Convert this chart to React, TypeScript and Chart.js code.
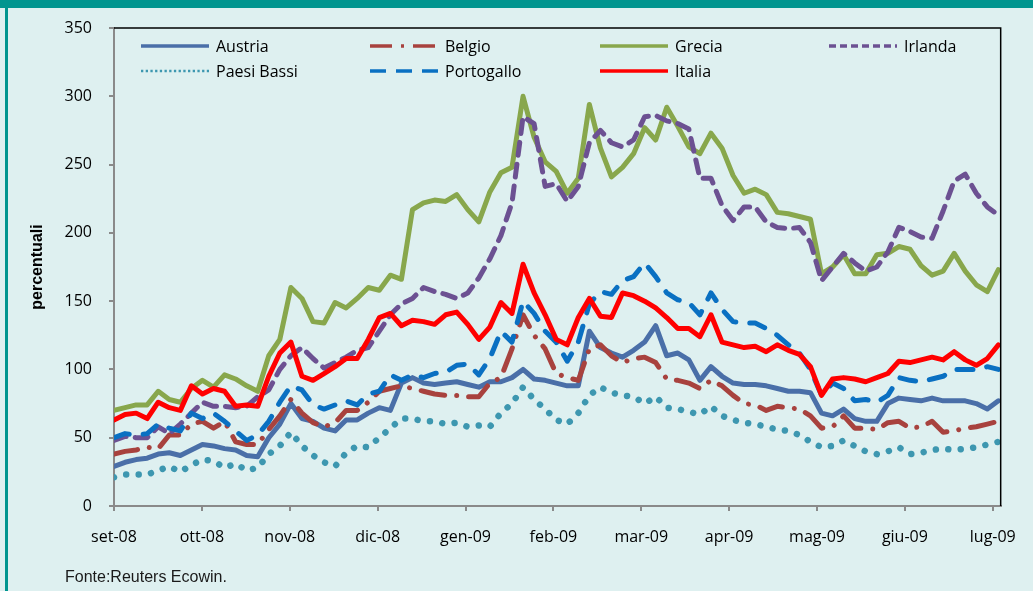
import React, { useEffect, useRef } from 'react';
import { Chart, registerables } from 'chart.js';

Chart.register(...registerables);

// ---- data ----
const MONTH_LABELS = ['set-08', 'ott-08', 'nov-08', 'dic-08', 'gen-09', 'feb-09', 'mar-09', 'apr-09', 'mag-09', 'giu-09', 'lug-09'];
const X_MAX = 10.09; // months shown on the axis
const SAMPLE_STEP = 0.1258; // months between consecutive readings
const Y_MIN = 0;
const Y_MAX = 350;
const Y_STEP = 50;

const austria = [29, 32, 34, 35, 38, 39, 37, 41, 45, 44, 42, 41, 37, 36, 50, 60, 75, 64, 62, 57, 55, 63, 63, 68, 72, 70, 90, 94, 90, 89, 90, 91, 89, 87, 91, 91, 94, 100, 93, 92, 90, 88, 88, 128, 116, 112, 109, 114, 120, 132, 110, 112, 107, 92, 102, 95, 90, 89, 89, 88, 86, 84, 84, 83, 68, 66, 71, 64, 62, 62, 75, 79, 78, 77, 79, 77, 77, 77, 75, 71, 77];
const belgio = [38, 40, 41, 43, 42, 52, 52, 60, 62, 57, 62, 47, 45, 45, 56, 66, 78, 68, 61, 58, 61, 70, 70, 76, 84, 86, 88, 86, 84, 82, 81, 81, 80, 80, 90, 94, 115, 140, 125, 115, 97, 94, 92, 115, 118, 110, 105, 108, 109, 105, 93, 92, 90, 86, 92, 88, 81, 75, 74, 70, 73, 72, 71, 66, 57, 58, 66, 57, 57, 56, 61, 62, 57, 58, 62, 54, 55, 57, 58, 60, 62];
const grecia = [70, 72, 74, 74, 84, 78, 76, 86, 92, 87, 96, 93, 88, 84, 110, 122, 160, 152, 135, 134, 149, 145, 152, 160, 158, 169, 166, 217, 222, 224, 223, 228, 217, 208, 230, 244, 248, 300, 270, 252, 245, 229, 240, 294, 262, 241, 248, 258, 277, 268, 292, 278, 263, 258, 273, 262, 242, 229, 232, 228, 215, 214, 212, 210, 170, 175, 184, 170, 170, 184, 185, 190, 188, 176, 169, 172, 185, 172, 162, 157, 173];
const irlanda = [48, 51, 50, 50, 58, 53, 60, 68, 76, 73, 73, 72, 73, 80, 85, 100, 110, 116, 108, 101, 105, 109, 114, 116, 128, 140, 148, 152, 160, 157, 155, 152, 156, 167, 181, 198, 222, 285, 280, 234, 236, 223, 234, 266, 275, 266, 263, 268, 285, 286, 282, 280, 276, 240, 240, 220, 209, 219, 219, 208, 204, 203, 204, 193, 165, 175, 185, 178, 172, 175, 186, 204, 201, 197, 196, 216, 238, 243, 229, 219, 213];
const paesiBassi = [21, 23, 23, 23, 26, 29, 25, 30, 34, 33, 28, 31, 26, 28, 38, 44, 54, 44, 37, 32, 29, 39, 44, 43, 50, 57, 64, 64, 62, 62, 60, 61, 58, 59, 58, 68, 75, 87, 78, 71, 63, 60, 68, 81, 87, 83, 81, 80, 75, 80, 72, 71, 69, 67, 73, 66, 63, 61, 60, 58, 56, 55, 52, 47, 43, 44, 48, 44, 40, 38, 40, 43, 38, 39, 41, 42, 41, 42, 43, 45, 47];
const portogallo = [50, 53, 52, 53, 60, 57, 55, 68, 64, 68, 62, 55, 48, 52, 62, 76, 88, 85, 74, 71, 74, 77, 74, 82, 84, 96, 92, 96, 94, 97, 98, 103, 104, 96, 108, 128, 120, 150, 141, 128, 120, 106, 120, 148, 157, 155, 165, 168, 178, 168, 156, 151, 149, 140, 156, 144, 135, 134, 134, 130, 125, 118, 112, 100, 81, 90, 86, 77, 78, 76, 81, 94, 92, 91, 93, 95, 100, 100, 100, 102, 100];
const italia = [63, 67, 68, 64, 76, 72, 70, 88, 82, 86, 84, 73, 74, 73, 95, 112, 120, 95, 92, 97, 102, 108, 108, 122, 138, 141, 132, 136, 135, 133, 140, 142, 133, 122, 131, 149, 141, 177, 156, 140, 122, 118, 138, 152, 139, 138, 156, 154, 150, 145, 138, 130, 130, 124, 140, 120, 118, 116, 117, 113, 118, 114, 111, 102, 81, 93, 94, 93, 91, 94, 97, 106, 105, 107, 109, 107, 113, 107, 103, 108, 118];

const SERIES_NAMES = ['Austria', 'Belgio', 'Grecia', 'Irlanda', 'Paesi Bassi', 'Portogallo', 'Italia'];
const SERIES_VALUES = [austria, belgio, grecia, irlanda, paesiBassi, portogallo, italia];

// ---- styles ----
const COLORS = ['#4a6fa8', '#a8423e', '#88a74c', '#6c5192', '#3d97b0', '#0a70c2', '#ff0000'];
const LINE_WIDTHS = [5, 5, 5, 5, 6.5, 5, 5];
const CHART_DASH: number[][] = [[], [24, 12, 0.01, 12], [], [13, 9], [0.01, 12.5], [16, 14], []];
const LEGEND_DASH: number[][] = [[], [22, 9, 3, 9], [], [7, 4], [2.3, 2.4], [16, 10], []];
const LEGEND_WIDTHS = [3.5, 3.5, 3.5, 3.5, 2.6, 3.5, 3.5];
const LEGEND_POS = [
  [141, 46], [370, 46], [600, 46], [829, 46],
  [141, 71], [370, 71], [600, 71],
];

const TICK_FONT = { family: '"Open Sans", sans-serif', size: 16 };
const AXIS_GREY = '#8a8a8a';

const decorPlugin = {
  id: 'decor',
  afterDatasetsDraw(chart: any) {
    const { ctx, chartArea: a } = chart;
    ctx.save();
    // plot-area frame (top & right)
    ctx.strokeStyle = '#000';
    ctx.lineWidth = 1.5;
    ctx.beginPath();
    ctx.moveTo(a.left, a.top);
    ctx.lineTo(a.right, a.top);
    ctx.lineTo(a.right, a.bottom);
    ctx.stroke();

    // legend
    ctx.font = '16px "Open Sans", sans-serif';
    ctx.textBaseline = 'middle';
    ctx.textAlign = 'left';
    SERIES_NAMES.forEach((name, i) => {
      const [x, y] = LEGEND_POS[i];
      ctx.save();
      ctx.strokeStyle = COLORS[i];
      ctx.lineWidth = LEGEND_WIDTHS[i];
      ctx.lineCap = 'butt';
      ctx.setLineDash(LEGEND_DASH[i]);
      ctx.beginPath();
      ctx.moveTo(x, y);
      ctx.lineTo(x + 68, y);
      ctx.stroke();
      ctx.restore();
      ctx.fillStyle = '#000';
      ctx.fillText(name, x + 75, y + 1);
    });

    // y axis title
    ctx.save();
    ctx.translate(38, (a.top + a.bottom) / 2);
    ctx.rotate(-Math.PI / 2);
    ctx.font = 'bold 16px "Liberation Sans", Arial, sans-serif';
    ctx.textAlign = 'center';
    ctx.textBaseline = 'middle';
    ctx.fillStyle = '#000';
    ctx.fillText('percentuali', 0, 0);
    ctx.restore();

    // source
    ctx.font = '16px "Liberation Sans", Arial, sans-serif';
    ctx.fillStyle = '#1a1a1a';
    ctx.textAlign = 'left';
    ctx.textBaseline = 'alphabetic';
    ctx.fillText('Fonte:Reuters Ecowin.', 65, 582);
    ctx.restore();
  },
};

export default function App() {
  const canvasRef = useRef<HTMLCanvasElement | null>(null);

  useEffect(() => {
    const canvas = canvasRef.current;
    if (!canvas) return;
    const datasets = SERIES_NAMES.map((name, i) => ({
      label: name,
      data: SERIES_VALUES[i].map((v, k) => ({ x: k * SAMPLE_STEP, y: v })),
      borderColor: COLORS[i],
      backgroundColor: COLORS[i],
      borderWidth: LINE_WIDTHS[i],
      borderDash: CHART_DASH[i],
      borderCapStyle: 'round',
      borderJoinStyle: 'round',
      pointRadius: 0,
      tension: 0,
      fill: false,
      order: SERIES_NAMES.length - 1 - i,
    }));

    const chart = new Chart(canvas, {
      type: 'line',
      data: { datasets } as any,
      plugins: [decorPlugin],
      options: {
        responsive: false,
        animation: false,
        events: [],
        layout: { padding: { left: 0, right: 27, top: 28, bottom: 0 } },
        plugins: { legend: { display: false }, tooltip: { enabled: false } },
        scales: {
          x: {
            type: 'linear',
            min: 0,
            max: X_MAX,
            afterBuildTicks: (s: any) => {
              s.ticks = MONTH_LABELS.map((_, i) => ({ value: i }));
            },
            afterFit: (s: any) => {
              s.height = 85;
            },
            grid: { display: true, drawOnChartArea: false, drawTicks: true, tickLength: 5, color: AXIS_GREY, lineWidth: 2 },
            border: { display: true, color: AXIS_GREY, width: 2 },
            ticks: {
              callback: (v: any) => MONTH_LABELS[Math.round(v)] ?? '',
              font: TICK_FONT,
              color: '#000',
              padding: 17,
              maxRotation: 0,
              autoSkip: false,
            },
          },
          y: {
            min: Y_MIN,
            max: Y_MAX,
            afterFit: (s: any) => {
              s.width = 114;
            },
            grid: { display: true, drawOnChartArea: false, drawTicks: true, tickLength: 5, color: AXIS_GREY, lineWidth: 2 },
            border: { display: true, color: AXIS_GREY, width: 2 },
            ticks: { stepSize: Y_STEP, font: TICK_FONT, color: '#000', padding: 17 },
          },
        },
      } as any,
    });
    return () => chart.destroy();
  }, []);

  return (
    <div style={{ position: 'fixed', left: 0, top: 0, width: 1033, height: 591, background: '#def0f0', overflow: 'hidden' }}>
      <div style={{ position: 'absolute', left: 0, top: 0, width: 1033, height: 8, background: '#00958f' }} />
      <div style={{ position: 'absolute', left: 5, top: 8, width: 2.5, height: 583, background: '#00958f' }} />
      <canvas ref={canvasRef} width={1033} height={591} style={{ position: 'absolute', left: 0, top: 0, width: 1033, height: 591 }} />
    </div>
  );
}
